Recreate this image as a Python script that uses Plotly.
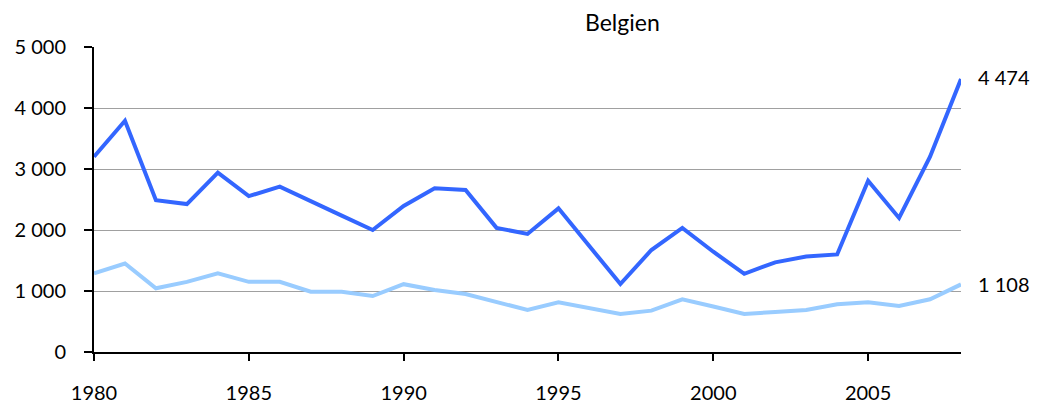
import plotly.graph_objects as go

years = list(range(1980, 2009))
series_dark = [3200, 3790, 2490, 2425, 2940, 2555, 2710, 2480, 2235, 2000,
               2395, 2683, 2655, 2035, 1935, 2355, 1730, 1115, 1672, 2035,
               1644, 1282, 1470, 1565, 1600, 2808, 2197, 3202, 4474]
series_light = [1290, 1450, 1044, 1150, 1290, 1150, 1150, 989, 989, 918,
                1112, 1016, 951, 814, 689, 814, 716, 623, 678, 864,
                745, 623, 656, 689, 782, 814, 754, 864, 1108]
y_ticks = [0, 1000, 2000, 3000, 4000, 5000]
y_tick_labels = ["0", "1 000", "2 000", "3 000", "4 000", "5 000"]
title_text = "Belgien"
end_labels = ["4 474", "1 108"]

FONT = "Lato"

fig = go.Figure()
fig.add_trace(go.Scatter(x=years, y=series_light, mode="lines",
                         line=dict(color="#99CCFF", width=4), showlegend=False))
fig.add_trace(go.Scatter(x=years, y=series_dark, mode="lines",
                         line=dict(color="#3366FF", width=4), showlegend=False))

fig.add_annotation(x=years[-1], y=series_dark[-1], xref="x", yref="y",
                   text=end_labels[0], showarrow=False, xanchor="left",
                   yanchor="middle", xshift=15, yshift=2,
                   font=dict(family=FONT, size=20, color="black"))
fig.add_annotation(x=years[-1], y=series_light[-1], xref="x", yref="y",
                   text=end_labels[1], showarrow=False, xanchor="left",
                   yanchor="middle", xshift=15,
                   font=dict(family=FONT, size=20, color="black"))
fig.add_annotation(x=0.609, y=1.0, xref="paper", yref="paper", yshift=25,
                   text=title_text, showarrow=False, xanchor="center",
                   yanchor="middle",
                   font=dict(family=FONT, size=23, color="black"))

fig.update_layout(
    width=1031, height=400,
    margin=dict(l=86, r=78, t=39, b=56),
    plot_bgcolor="white", paper_bgcolor="white",
    font=dict(family=FONT, size=20, color="black"),
    xaxis=dict(range=[1980, 2008], tick0=1980, dtick=5, showgrid=False,
               showline=True, linecolor="black", linewidth=2,
               ticks="outside", ticklen=7, tickwidth=2, tickcolor="black",
               ticklabelstandoff=15, zeroline=False, fixedrange=True,
               automargin=False),
    yaxis=dict(range=[0, 5000], tickvals=y_ticks, ticktext=y_tick_labels,
               showgrid=True, gridcolor="#A0A0A0", gridwidth=1,
               showline=True, linecolor="black", linewidth=2,
               ticks="outside", ticklen=8, tickwidth=2, tickcolor="black",
               ticklabelstandoff=14, zeroline=False, fixedrange=True,
               automargin=False),
)

fig.write_html("out.html")
